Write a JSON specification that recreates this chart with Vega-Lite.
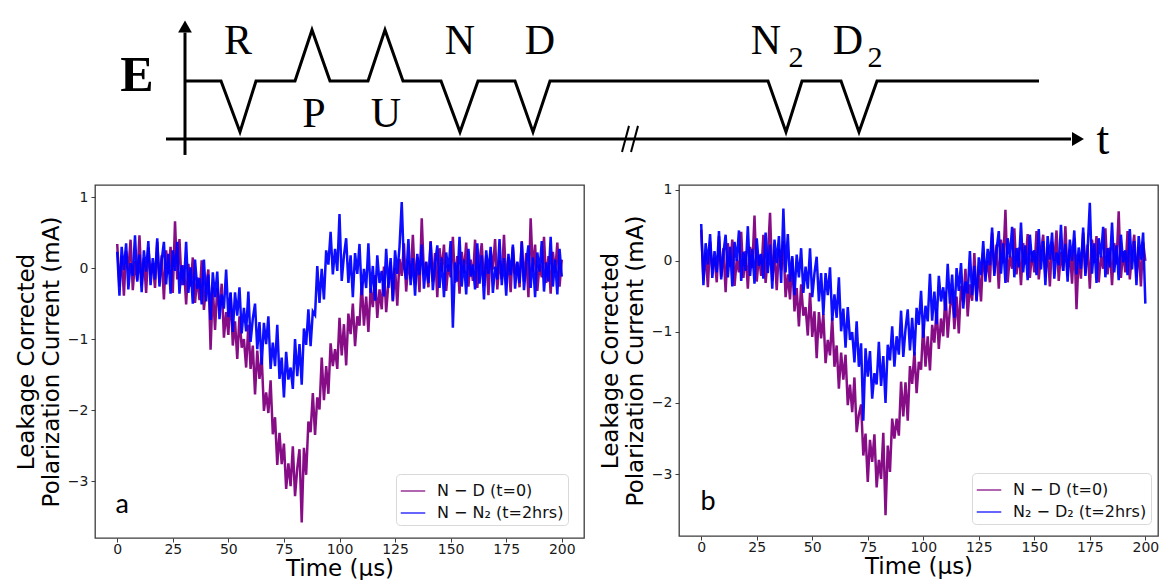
{
"$schema": "https://vega.github.io/schema/vega-lite/v6.json",
"padding": {"left": 14, "top": 0, "right": 0, "bottom": 0},
"background": "white",
"datasets": {
"a": [
{"t":0,"s":"ND","v":0.34},{"t":1,"s":"ND","v":-0.26},{"t":2,"s":"ND","v":0.17},{"t":3,"s":"ND","v":-0.39},{"t":4,"s":"ND","v":0.24},{"t":5,"s":"ND","v":-0.03},{"t":6,"s":"ND","v":0.40},{"t":7,"s":"ND","v":-0.31},{"t":8,"s":"ND","v":0.10},{"t":9,"s":"ND","v":-0.17},
{"t":10,"s":"ND","v":0.46},{"t":11,"s":"ND","v":-0.24},{"t":12,"s":"ND","v":0.14},{"t":13,"s":"ND","v":-0.35},{"t":14,"s":"ND","v":0.29},{"t":15,"s":"ND","v":-0.10},{"t":16,"s":"ND","v":0.07},{"t":17,"s":"ND","v":-0.28},{"t":18,"s":"ND","v":0.37},{"t":19,"s":"ND","v":-0.20},
{"t":20,"s":"ND","v":0.18},{"t":21,"s":"ND","v":-0.44},{"t":22,"s":"ND","v":0.25},{"t":23,"s":"ND","v":-0.08},{"t":24,"s":"ND","v":0.30},{"t":25,"s":"ND","v":-0.35},{"t":26,"s":"ND","v":0.66},{"t":27,"s":"ND","v":-0.16},{"t":28,"s":"ND","v":0.41},{"t":29,"s":"ND","v":-0.24},
{"t":30,"s":"ND","v":0.04},{"t":31,"s":"ND","v":-0.51},{"t":32,"s":"ND","v":0.06},{"t":33,"s":"ND","v":-0.26},{"t":34,"s":"ND","v":0.15},{"t":35,"s":"ND","v":-0.49},{"t":36,"s":"ND","v":-0.13},{"t":37,"s":"ND","v":-0.45},{"t":38,"s":"ND","v":0.11},{"t":39,"s":"ND","v":-0.59},
{"t":40,"s":"ND","v":-0.24},{"t":41,"s":"ND","v":-0.02},{"t":42,"s":"ND","v":-1.15},{"t":43,"s":"ND","v":-0.27},{"t":44,"s":"ND","v":-0.87},{"t":45,"s":"ND","v":-0.28},{"t":46,"s":"ND","v":-0.60},{"t":47,"s":"ND","v":-0.22},{"t":48,"s":"ND","v":-0.98},{"t":49,"s":"ND","v":-0.62},
{"t":50,"s":"ND","v":-0.94},{"t":51,"s":"ND","v":-0.35},{"t":52,"s":"ND","v":-1.09},{"t":53,"s":"ND","v":-0.75},{"t":54,"s":"ND","v":-1.28},{"t":55,"s":"ND","v":-0.68},{"t":56,"s":"ND","v":-1.12},{"t":57,"s":"ND","v":-1.00},{"t":58,"s":"ND","v":-1.40},{"t":59,"s":"ND","v":-0.80},
{"t":60,"s":"ND","v":-1.42},{"t":61,"s":"ND","v":-1.09},{"t":62,"s":"ND","v":-1.78},{"t":63,"s":"ND","v":-1.16},{"t":64,"s":"ND","v":-1.56},{"t":65,"s":"ND","v":-1.25},{"t":66,"s":"ND","v":-2.01},{"t":67,"s":"ND","v":-1.75},{"t":68,"s":"ND","v":-2.04},{"t":69,"s":"ND","v":-1.58},
{"t":70,"s":"ND","v":-2.34},{"t":71,"s":"ND","v":-2.10},{"t":72,"s":"ND","v":-2.77},{"t":73,"s":"ND","v":-2.32},{"t":74,"s":"ND","v":-2.76},{"t":75,"s":"ND","v":-2.47},{"t":76,"s":"ND","v":-3.11},{"t":77,"s":"ND","v":-2.75},{"t":78,"s":"ND","v":-3.07},{"t":79,"s":"ND","v":-2.51},
{"t":80,"s":"ND","v":-3.21},{"t":81,"s":"ND","v":-2.82},{"t":82,"s":"ND","v":-2.55},{"t":83,"s":"ND","v":-3.58},{"t":84,"s":"ND","v":-2.53},{"t":85,"s":"ND","v":-2.91},{"t":86,"s":"ND","v":-2.16},{"t":87,"s":"ND","v":-2.31},{"t":88,"s":"ND","v":-1.76},{"t":89,"s":"ND","v":-2.35},
{"t":90,"s":"ND","v":-1.82},{"t":91,"s":"ND","v":-1.99},{"t":92,"s":"ND","v":-1.26},{"t":93,"s":"ND","v":-1.86},{"t":94,"s":"ND","v":-1.38},{"t":95,"s":"ND","v":-1.77},{"t":96,"s":"ND","v":-1.06},{"t":97,"s":"ND","v":-1.38},{"t":98,"s":"ND","v":-1.14},{"t":99,"s":"ND","v":-1.42},
{"t":100,"s":"ND","v":-0.70},{"t":101,"s":"ND","v":-1.23},{"t":102,"s":"ND","v":-0.79},{"t":103,"s":"ND","v":-1.37},{"t":104,"s":"ND","v":-0.64},{"t":105,"s":"ND","v":-0.93},{"t":106,"s":"ND","v":-0.50},{"t":107,"s":"ND","v":-1.10},{"t":108,"s":"ND","v":-0.68},{"t":109,"s":"ND","v":-0.81},
{"t":110,"s":"ND","v":-0.19},{"t":111,"s":"ND","v":-0.81},{"t":112,"s":"ND","v":-0.40},{"t":113,"s":"ND","v":-0.90},{"t":114,"s":"ND","v":-0.28},{"t":115,"s":"ND","v":-0.55},{"t":116,"s":"ND","v":-0.10},{"t":117,"s":"ND","v":-0.70},{"t":118,"s":"ND","v":-0.30},{"t":119,"s":"ND","v":-0.58},
{"t":120,"s":"ND","v":0.02},{"t":121,"s":"ND","v":-0.62},{"t":122,"s":"ND","v":-0.21},{"t":123,"s":"ND","v":0.09},{"t":124,"s":"ND","v":-0.47},{"t":125,"s":"ND","v":0.00},{"t":126,"s":"ND","v":-0.53},{"t":127,"s":"ND","v":0.13},{"t":128,"s":"ND","v":-0.11},{"t":129,"s":"ND","v":0.35},
{"t":130,"s":"ND","v":-0.33},{"t":131,"s":"ND","v":0.11},{"t":132,"s":"ND","v":-0.16},{"t":133,"s":"ND","v":0.47},{"t":134,"s":"ND","v":-0.23},{"t":135,"s":"ND","v":0.15},{"t":136,"s":"ND","v":-0.34},{"t":137,"s":"ND","v":0.70},{"t":138,"s":"ND","v":-0.09},{"t":139,"s":"ND","v":0.08},
{"t":140,"s":"ND","v":-0.27},{"t":141,"s":"ND","v":0.38},{"t":142,"s":"ND","v":-0.19},{"t":143,"s":"ND","v":0.21},{"t":144,"s":"ND","v":-0.41},{"t":145,"s":"ND","v":0.28},{"t":146,"s":"ND","v":-0.05},{"t":147,"s":"ND","v":0.33},{"t":148,"s":"ND","v":-0.32},{"t":149,"s":"ND","v":0.05},
{"t":150,"s":"ND","v":-0.13},{"t":151,"s":"ND","v":0.44},{"t":152,"s":"ND","v":-0.21},{"t":153,"s":"ND","v":0.17},{"t":154,"s":"ND","v":-0.36},{"t":155,"s":"ND","v":0.23},{"t":156,"s":"ND","v":-0.07},{"t":157,"s":"ND","v":0.36},{"t":158,"s":"ND","v":-0.26},{"t":159,"s":"ND","v":0.12},
{"t":160,"s":"ND","v":-0.18},{"t":161,"s":"ND","v":0.40},{"t":162,"s":"ND","v":-0.28},{"t":163,"s":"ND","v":0.09},{"t":164,"s":"ND","v":0.35},{"t":165,"s":"ND","v":-0.25},{"t":166,"s":"ND","v":0.18},{"t":167,"s":"ND","v":-0.38},{"t":168,"s":"ND","v":0.25},{"t":169,"s":"ND","v":-0.02},
{"t":170,"s":"ND","v":0.41},{"t":171,"s":"ND","v":-0.30},{"t":172,"s":"ND","v":0.11},{"t":173,"s":"ND","v":-0.16},{"t":174,"s":"ND","v":0.47},{"t":175,"s":"ND","v":-0.23},{"t":176,"s":"ND","v":0.15},{"t":177,"s":"ND","v":-0.34},{"t":178,"s":"ND","v":0.30},{"t":179,"s":"ND","v":-0.09},
{"t":180,"s":"ND","v":0.08},{"t":181,"s":"ND","v":-0.27},{"t":182,"s":"ND","v":0.38},{"t":183,"s":"ND","v":-0.19},{"t":184,"s":"ND","v":0.21},{"t":185,"s":"ND","v":-0.41},{"t":186,"s":"ND","v":0.70},{"t":187,"s":"ND","v":-0.05},{"t":188,"s":"ND","v":0.33},{"t":189,"s":"ND","v":-0.32},
{"t":190,"s":"ND","v":0.05},{"t":191,"s":"ND","v":-0.13},{"t":192,"s":"ND","v":0.44},{"t":193,"s":"ND","v":-0.21},{"t":194,"s":"ND","v":0.17},{"t":195,"s":"ND","v":-0.36},{"t":196,"s":"ND","v":0.23},{"t":197,"s":"ND","v":-0.07},{"t":198,"s":"ND","v":0.36},{"t":199,"s":"ND","v":-0.26},{"t":200,"s":"ND","v":0.12},
{"t":0,"s":"NN2","v":0.23},{"t":1,"s":"NN2","v":-0.39},{"t":2,"s":"NN2","v":0.30},{"t":3,"s":"NN2","v":-0.03},{"t":4,"s":"NN2","v":0.35},{"t":5,"s":"NN2","v":-0.30},{"t":6,"s":"NN2","v":0.07},{"t":7,"s":"NN2","v":-0.11},{"t":8,"s":"NN2","v":0.46},{"t":9,"s":"NN2","v":-0.19},
{"t":10,"s":"NN2","v":0.19},{"t":11,"s":"NN2","v":-0.34},{"t":12,"s":"NN2","v":0.25},{"t":13,"s":"NN2","v":-0.05},{"t":14,"s":"NN2","v":0.38},{"t":15,"s":"NN2","v":-0.24},{"t":16,"s":"NN2","v":0.14},{"t":17,"s":"NN2","v":-0.16},{"t":18,"s":"NN2","v":0.42},{"t":19,"s":"NN2","v":-0.26},
{"t":20,"s":"NN2","v":0.11},{"t":21,"s":"NN2","v":0.37},{"t":22,"s":"NN2","v":-0.23},{"t":23,"s":"NN2","v":0.20},{"t":24,"s":"NN2","v":-0.36},{"t":25,"s":"NN2","v":0.25},{"t":26,"s":"NN2","v":-0.04},{"t":27,"s":"NN2","v":0.37},{"t":28,"s":"NN2","v":-0.36},{"t":29,"s":"NN2","v":0.04},
{"t":30,"s":"NN2","v":-0.24},{"t":31,"s":"NN2","v":0.37},{"t":32,"s":"NN2","v":-0.35},{"t":33,"s":"NN2","v":0.01},{"t":34,"s":"NN2","v":-0.50},{"t":35,"s":"NN2","v":0.12},{"t":36,"s":"NN2","v":-0.29},{"t":37,"s":"NN2","v":-0.14},{"t":38,"s":"NN2","v":-0.51},{"t":39,"s":"NN2","v":0.12},
{"t":40,"s":"NN2","v":-0.47},{"t":41,"s":"NN2","v":-0.09},{"t":42,"s":"NN2","v":-0.73},{"t":43,"s":"NN2","v":-0.06},{"t":44,"s":"NN2","v":-0.41},{"t":45,"s":"NN2","v":-0.05},{"t":46,"s":"NN2","v":-0.72},{"t":47,"s":"NN2","v":-0.37},{"t":48,"s":"NN2","v":-0.57},{"t":49,"s":"NN2","v":-0.02},
{"t":50,"s":"NN2","v":-0.69},{"t":51,"s":"NN2","v":-0.34},{"t":52,"s":"NN2","v":-0.90},{"t":53,"s":"NN2","v":-0.34},{"t":54,"s":"NN2","v":-0.67},{"t":55,"s":"NN2","v":-0.27},{"t":56,"s":"NN2","v":-0.92},{"t":57,"s":"NN2","v":-0.56},{"t":58,"s":"NN2","v":-0.89},{"t":59,"s":"NN2","v":-0.33},
{"t":60,"s":"NN2","v":-1.04},{"t":61,"s":"NN2","v":-0.71},{"t":62,"s":"NN2","v":-0.50},{"t":63,"s":"NN2","v":-1.14},{"t":64,"s":"NN2","v":-0.76},{"t":65,"s":"NN2","v":-1.36},{"t":66,"s":"NN2","v":-0.77},{"t":67,"s":"NN2","v":-1.07},{"t":68,"s":"NN2","v":-0.68},{"t":69,"s":"NN2","v":-1.42},
{"t":70,"s":"NN2","v":-1.05},{"t":71,"s":"NN2","v":-1.38},{"t":72,"s":"NN2","v":-0.80},{"t":73,"s":"NN2","v":-1.56},{"t":74,"s":"NN2","v":-1.26},{"t":75,"s":"NN2","v":-1.82},{"t":76,"s":"NN2","v":-1.18},{"t":77,"s":"NN2","v":-1.57},{"t":78,"s":"NN2","v":-1.40},{"t":79,"s":"NN2","v":-1.70},
{"t":80,"s":"NN2","v":-1.00},{"t":81,"s":"NN2","v":-1.52},{"t":82,"s":"NN2","v":-1.07},{"t":83,"s":"NN2","v":-1.64},{"t":84,"s":"NN2","v":-0.85},{"t":85,"s":"NN2","v":-1.08},{"t":86,"s":"NN2","v":-0.58},{"t":87,"s":"NN2","v":-1.10},{"t":88,"s":"NN2","v":-0.61},{"t":89,"s":"NN2","v":-0.66},
{"t":90,"s":"NN2","v":0.03},{"t":91,"s":"NN2","v":-0.49},{"t":92,"s":"NN2","v":-0.01},{"t":93,"s":"NN2","v":-0.44},{"t":94,"s":"NN2","v":0.25},{"t":95,"s":"NN2","v":0.05},{"t":96,"s":"NN2","v":0.51},{"t":97,"s":"NN2","v":-0.09},{"t":98,"s":"NN2","v":0.27},{"t":99,"s":"NN2","v":-0.04},
{"t":100,"s":"NN2","v":0.76},{"t":101,"s":"NN2","v":-0.18},{"t":102,"s":"NN2","v":0.18},{"t":103,"s":"NN2","v":0.42},{"t":104,"s":"NN2","v":-0.21},{"t":105,"s":"NN2","v":0.18},{"t":106,"s":"NN2","v":-0.41},{"t":107,"s":"NN2","v":0.21},{"t":108,"s":"NN2","v":-0.08},{"t":109,"s":"NN2","v":0.34},
{"t":110,"s":"NN2","v":-0.38},{"t":111,"s":"NN2","v":-0.01},{"t":112,"s":"NN2","v":-0.28},{"t":113,"s":"NN2","v":0.35},{"t":114,"s":"NN2","v":-0.35},{"t":115,"s":"NN2","v":0.03},{"t":116,"s":"NN2","v":-0.46},{"t":117,"s":"NN2","v":0.18},{"t":118,"s":"NN2","v":-0.21},{"t":119,"s":"NN2","v":-0.04},
{"t":120,"s":"NN2","v":-0.40},{"t":121,"s":"NN2","v":0.27},{"t":122,"s":"NN2","v":-0.28},{"t":123,"s":"NN2","v":0.14},{"t":124,"s":"NN2","v":-0.46},{"t":125,"s":"NN2","v":0.25},{"t":126,"s":"NN2","v":-0.08},{"t":127,"s":"NN2","v":0.30},{"t":128,"s":"NN2","v":0.93},{"t":129,"s":"NN2","v":0.02},
{"t":130,"s":"NN2","v":-0.16},{"t":131,"s":"NN2","v":0.41},{"t":132,"s":"NN2","v":-0.24},{"t":133,"s":"NN2","v":0.14},{"t":134,"s":"NN2","v":-0.39},{"t":135,"s":"NN2","v":0.20},{"t":136,"s":"NN2","v":-0.10},{"t":137,"s":"NN2","v":0.33},{"t":138,"s":"NN2","v":-0.29},{"t":139,"s":"NN2","v":0.09},
{"t":140,"s":"NN2","v":-0.21},{"t":141,"s":"NN2","v":0.37},{"t":142,"s":"NN2","v":-0.31},{"t":143,"s":"NN2","v":0.06},{"t":144,"s":"NN2","v":0.32},{"t":145,"s":"NN2","v":-0.28},{"t":146,"s":"NN2","v":0.15},{"t":147,"s":"NN2","v":-0.41},{"t":148,"s":"NN2","v":0.22},{"t":149,"s":"NN2","v":-0.05},
{"t":150,"s":"NN2","v":0.38},{"t":151,"s":"NN2","v":-0.84},{"t":152,"s":"NN2","v":0.08},{"t":153,"s":"NN2","v":-0.19},{"t":154,"s":"NN2","v":0.44},{"t":155,"s":"NN2","v":-0.26},{"t":156,"s":"NN2","v":0.12},{"t":157,"s":"NN2","v":-0.37},{"t":158,"s":"NN2","v":0.27},{"t":159,"s":"NN2","v":-0.12},
{"t":160,"s":"NN2","v":0.05},{"t":161,"s":"NN2","v":-0.30},{"t":162,"s":"NN2","v":0.35},{"t":163,"s":"NN2","v":-0.22},{"t":164,"s":"NN2","v":0.18},{"t":165,"s":"NN2","v":-0.44},{"t":166,"s":"NN2","v":0.25},{"t":167,"s":"NN2","v":-0.08},{"t":168,"s":"NN2","v":0.30},{"t":169,"s":"NN2","v":-0.35},
{"t":170,"s":"NN2","v":0.02},{"t":171,"s":"NN2","v":-0.16},{"t":172,"s":"NN2","v":0.41},{"t":173,"s":"NN2","v":-0.24},{"t":174,"s":"NN2","v":0.14},{"t":175,"s":"NN2","v":-0.39},{"t":176,"s":"NN2","v":0.20},{"t":177,"s":"NN2","v":-0.10},{"t":178,"s":"NN2","v":0.33},{"t":179,"s":"NN2","v":-0.29},
{"t":180,"s":"NN2","v":0.09},{"t":181,"s":"NN2","v":-0.21},{"t":182,"s":"NN2","v":0.37},{"t":183,"s":"NN2","v":-0.31},{"t":184,"s":"NN2","v":0.06},{"t":185,"s":"NN2","v":0.32},{"t":186,"s":"NN2","v":-0.28},{"t":187,"s":"NN2","v":0.15},{"t":188,"s":"NN2","v":-0.41},{"t":189,"s":"NN2","v":0.22},
{"t":190,"s":"NN2","v":-0.05},{"t":191,"s":"NN2","v":0.38},{"t":192,"s":"NN2","v":-0.33},{"t":193,"s":"NN2","v":0.08},{"t":194,"s":"NN2","v":-0.19},{"t":195,"s":"NN2","v":0.44},{"t":196,"s":"NN2","v":-0.26},{"t":197,"s":"NN2","v":0.12},{"t":198,"s":"NN2","v":-0.37},{"t":199,"s":"NN2","v":0.27},{"t":200,"s":"NN2","v":-0.12}
],
"b": [
{"t":0,"s":"ND","v":0.44},{"t":1,"s":"ND","v":-0.26},{"t":2,"s":"ND","v":0.12},{"t":3,"s":"ND","v":-0.37},{"t":4,"s":"ND","v":0.27},{"t":5,"s":"ND","v":-0.12},{"t":6,"s":"ND","v":0.05},{"t":7,"s":"ND","v":-0.30},{"t":8,"s":"ND","v":0.35},{"t":9,"s":"ND","v":-0.22},
{"t":10,"s":"ND","v":0.18},{"t":11,"s":"ND","v":-0.44},{"t":12,"s":"ND","v":0.25},{"t":13,"s":"ND","v":-0.08},{"t":14,"s":"ND","v":0.30},{"t":15,"s":"ND","v":-0.35},{"t":16,"s":"ND","v":0.02},{"t":17,"s":"ND","v":-0.16},{"t":18,"s":"ND","v":0.41},{"t":19,"s":"ND","v":-0.24},
{"t":20,"s":"ND","v":0.14},{"t":21,"s":"ND","v":-0.39},{"t":22,"s":"ND","v":0.20},{"t":23,"s":"ND","v":-0.10},{"t":24,"s":"ND","v":0.64},{"t":25,"s":"ND","v":-0.29},{"t":26,"s":"ND","v":0.09},{"t":27,"s":"ND","v":-0.21},{"t":28,"s":"ND","v":0.37},{"t":29,"s":"ND","v":-0.31},
{"t":30,"s":"ND","v":0.06},{"t":31,"s":"ND","v":0.68},{"t":32,"s":"ND","v":-0.28},{"t":33,"s":"ND","v":0.15},{"t":34,"s":"ND","v":-0.41},{"t":35,"s":"ND","v":0.17},{"t":36,"s":"ND","v":-0.13},{"t":37,"s":"ND","v":0.28},{"t":38,"s":"ND","v":-0.51},{"t":39,"s":"ND","v":-0.19},
{"t":40,"s":"ND","v":-0.54},{"t":41,"s":"ND","v":0.04},{"t":42,"s":"ND","v":-0.71},{"t":43,"s":"ND","v":-0.38},{"t":44,"s":"ND","v":-0.92},{"t":45,"s":"ND","v":-0.33},{"t":46,"s":"ND","v":-0.77},{"t":47,"s":"ND","v":-0.65},{"t":48,"s":"ND","v":-1.05},{"t":49,"s":"ND","v":-0.45},
{"t":50,"s":"ND","v":-1.07},{"t":51,"s":"ND","v":-0.71},{"t":52,"s":"ND","v":-1.37},{"t":53,"s":"ND","v":-0.72},{"t":54,"s":"ND","v":-1.09},{"t":55,"s":"ND","v":-0.75},{"t":56,"s":"ND","v":-1.44},{"t":57,"s":"ND","v":-1.11},{"t":58,"s":"ND","v":-1.33},{"t":59,"s":"ND","v":-0.80},
{"t":60,"s":"ND","v":-1.49},{"t":61,"s":"ND","v":-1.19},{"t":62,"s":"ND","v":-1.80},{"t":63,"s":"ND","v":-1.29},{"t":64,"s":"ND","v":-1.67},{"t":65,"s":"ND","v":-1.32},{"t":66,"s":"ND","v":-2.03},{"t":67,"s":"ND","v":-1.74},{"t":68,"s":"ND","v":-2.13},{"t":69,"s":"ND","v":-1.64},
{"t":70,"s":"ND","v":-2.41},{"t":71,"s":"ND","v":-2.16},{"t":72,"s":"ND","v":-2.02},{"t":73,"s":"ND","v":-2.74},{"t":74,"s":"ND","v":-2.43},{"t":75,"s":"ND","v":-3.11},{"t":76,"s":"ND","v":-2.52},{"t":77,"s":"ND","v":-2.83},{"t":78,"s":"ND","v":-2.44},{"t":79,"s":"ND","v":-3.19},
{"t":80,"s":"ND","v":-2.80},{"t":81,"s":"ND","v":-3.07},{"t":82,"s":"ND","v":-2.42},{"t":83,"s":"ND","v":-3.58},{"t":84,"s":"ND","v":-2.60},{"t":85,"s":"ND","v":-2.97},{"t":86,"s":"ND","v":-2.22},{"t":87,"s":"ND","v":-2.50},{"t":88,"s":"ND","v":-2.22},{"t":89,"s":"ND","v":-2.46},
{"t":90,"s":"ND","v":-1.70},{"t":91,"s":"ND","v":-2.19},{"t":92,"s":"ND","v":-1.71},{"t":93,"s":"ND","v":-2.25},{"t":94,"s":"ND","v":-1.48},{"t":95,"s":"ND","v":-1.73},{"t":96,"s":"ND","v":-1.28},{"t":97,"s":"ND","v":-1.86},{"t":98,"s":"ND","v":-1.42},{"t":99,"s":"ND","v":-1.53},
{"t":100,"s":"ND","v":-0.89},{"t":101,"s":"ND","v":-1.49},{"t":102,"s":"ND","v":-1.06},{"t":103,"s":"ND","v":-1.54},{"t":104,"s":"ND","v":-0.90},{"t":105,"s":"ND","v":-1.15},{"t":106,"s":"ND","v":-0.67},{"t":107,"s":"ND","v":-1.24},{"t":108,"s":"ND","v":-0.81},{"t":109,"s":"ND","v":-1.06},
{"t":110,"s":"ND","v":-0.43},{"t":111,"s":"ND","v":-1.08},{"t":112,"s":"ND","v":-0.68},{"t":113,"s":"ND","v":-0.39},{"t":114,"s":"ND","v":-0.96},{"t":115,"s":"ND","v":-0.50},{"t":116,"s":"ND","v":-1.02},{"t":117,"s":"ND","v":-0.35},{"t":118,"s":"ND","v":-0.58},{"t":119,"s":"ND","v":-0.11},
{"t":120,"s":"ND","v":-0.78},{"t":121,"s":"ND","v":-0.33},{"t":122,"s":"ND","v":-0.56},{"t":123,"s":"ND","v":0.11},{"t":124,"s":"ND","v":-0.55},{"t":125,"s":"ND","v":-0.13},{"t":126,"s":"ND","v":-0.57},{"t":127,"s":"ND","v":0.12},{"t":128,"s":"ND","v":-0.22},{"t":129,"s":"ND","v":0.00},
{"t":130,"s":"ND","v":-0.30},{"t":131,"s":"ND","v":0.40},{"t":132,"s":"ND","v":-0.17},{"t":133,"s":"ND","v":0.23},{"t":134,"s":"ND","v":-0.39},{"t":135,"s":"ND","v":0.30},{"t":136,"s":"ND","v":-0.03},{"t":137,"s":"ND","v":0.72},{"t":138,"s":"ND","v":-0.30},{"t":139,"s":"ND","v":0.07},
{"t":140,"s":"ND","v":-0.11},{"t":141,"s":"ND","v":0.46},{"t":142,"s":"ND","v":-0.19},{"t":143,"s":"ND","v":0.19},{"t":144,"s":"ND","v":-0.34},{"t":145,"s":"ND","v":0.25},{"t":146,"s":"ND","v":-0.05},{"t":147,"s":"ND","v":0.38},{"t":148,"s":"ND","v":-0.24},{"t":149,"s":"ND","v":0.14},
{"t":150,"s":"ND","v":-0.16},{"t":151,"s":"ND","v":0.42},{"t":152,"s":"ND","v":-0.26},{"t":153,"s":"ND","v":0.11},{"t":154,"s":"ND","v":0.37},{"t":155,"s":"ND","v":-0.23},{"t":156,"s":"ND","v":0.20},{"t":157,"s":"ND","v":-0.36},{"t":158,"s":"ND","v":0.27},{"t":159,"s":"ND","v":0.00},
{"t":160,"s":"ND","v":0.43},{"t":161,"s":"ND","v":-0.28},{"t":162,"s":"ND","v":0.13},{"t":163,"s":"ND","v":-0.14},{"t":164,"s":"ND","v":0.49},{"t":165,"s":"ND","v":-0.21},{"t":166,"s":"ND","v":0.17},{"t":167,"s":"ND","v":-0.32},{"t":168,"s":"ND","v":0.32},{"t":169,"s":"ND","v":-0.68},
{"t":170,"s":"ND","v":0.10},{"t":171,"s":"ND","v":-0.25},{"t":172,"s":"ND","v":0.40},{"t":173,"s":"ND","v":-0.17},{"t":174,"s":"ND","v":0.23},{"t":175,"s":"ND","v":-0.39},{"t":176,"s":"ND","v":0.30},{"t":177,"s":"ND","v":-0.03},{"t":178,"s":"ND","v":0.35},{"t":179,"s":"ND","v":-0.30},
{"t":180,"s":"ND","v":0.07},{"t":181,"s":"ND","v":-0.11},{"t":182,"s":"ND","v":0.46},{"t":183,"s":"ND","v":-0.19},{"t":184,"s":"ND","v":0.19},{"t":185,"s":"ND","v":-0.34},{"t":186,"s":"ND","v":0.25},{"t":187,"s":"ND","v":-0.05},{"t":188,"s":"ND","v":0.70},{"t":189,"s":"ND","v":-0.24},
{"t":190,"s":"ND","v":0.14},{"t":191,"s":"ND","v":-0.16},{"t":192,"s":"ND","v":0.42},{"t":193,"s":"ND","v":-0.26},{"t":194,"s":"ND","v":0.11},{"t":195,"s":"ND","v":0.37},{"t":196,"s":"ND","v":-0.23},{"t":197,"s":"ND","v":0.20},{"t":198,"s":"ND","v":-0.36},{"t":199,"s":"ND","v":0.27},{"t":200,"s":"ND","v":0.00},
{"t":0,"s":"N2D2","v":0.52},{"t":1,"s":"N2D2","v":-0.34},{"t":2,"s":"N2D2","v":0.25},{"t":3,"s":"N2D2","v":-0.05},{"t":4,"s":"N2D2","v":0.38},{"t":5,"s":"N2D2","v":-0.24},{"t":6,"s":"N2D2","v":0.14},{"t":7,"s":"N2D2","v":-0.16},{"t":8,"s":"N2D2","v":0.42},{"t":9,"s":"N2D2","v":-0.26},
{"t":10,"s":"N2D2","v":0.11},{"t":11,"s":"N2D2","v":0.37},{"t":12,"s":"N2D2","v":-0.23},{"t":13,"s":"N2D2","v":0.20},{"t":14,"s":"N2D2","v":-0.36},{"t":15,"s":"N2D2","v":0.27},{"t":16,"s":"N2D2","v":0.00},{"t":17,"s":"N2D2","v":0.43},{"t":18,"s":"N2D2","v":-0.28},{"t":19,"s":"N2D2","v":0.13},
{"t":20,"s":"N2D2","v":-0.14},{"t":21,"s":"N2D2","v":0.49},{"t":22,"s":"N2D2","v":-0.21},{"t":23,"s":"N2D2","v":0.17},{"t":24,"s":"N2D2","v":-0.32},{"t":25,"s":"N2D2","v":0.32},{"t":26,"s":"N2D2","v":-0.07},{"t":27,"s":"N2D2","v":0.10},{"t":28,"s":"N2D2","v":-0.25},{"t":29,"s":"N2D2","v":0.40},
{"t":30,"s":"N2D2","v":-0.17},{"t":31,"s":"N2D2","v":0.23},{"t":32,"s":"N2D2","v":-0.39},{"t":33,"s":"N2D2","v":0.30},{"t":34,"s":"N2D2","v":-0.03},{"t":35,"s":"N2D2","v":0.35},{"t":36,"s":"N2D2","v":-0.31},{"t":37,"s":"N2D2","v":0.74},{"t":38,"s":"N2D2","v":-0.16},{"t":39,"s":"N2D2","v":0.38},
{"t":40,"s":"N2D2","v":-0.29},{"t":41,"s":"N2D2","v":0.07},{"t":42,"s":"N2D2","v":-0.48},{"t":43,"s":"N2D2","v":0.09},{"t":44,"s":"N2D2","v":-0.23},{"t":45,"s":"N2D2","v":0.18},{"t":46,"s":"N2D2","v":-0.45},{"t":47,"s":"N2D2","v":-0.08},{"t":48,"s":"N2D2","v":-0.39},{"t":49,"s":"N2D2","v":0.18},
{"t":50,"s":"N2D2","v":-0.51},{"t":51,"s":"N2D2","v":-0.17},{"t":52,"s":"N2D2","v":0.06},{"t":53,"s":"N2D2","v":-0.57},{"t":54,"s":"N2D2","v":-0.17},{"t":55,"s":"N2D2","v":-0.76},{"t":56,"s":"N2D2","v":-0.17},{"t":57,"s":"N2D2","v":-0.48},{"t":58,"s":"N2D2","v":-0.09},{"t":59,"s":"N2D2","v":-0.84},
{"t":60,"s":"N2D2","v":-0.47},{"t":61,"s":"N2D2","v":-0.80},{"t":62,"s":"N2D2","v":-0.23},{"t":63,"s":"N2D2","v":-0.99},{"t":64,"s":"N2D2","v":-0.67},{"t":65,"s":"N2D2","v":-1.22},{"t":66,"s":"N2D2","v":-0.65},{"t":67,"s":"N2D2","v":-1.11},{"t":68,"s":"N2D2","v":-1.00},{"t":69,"s":"N2D2","v":-1.43},
{"t":70,"s":"N2D2","v":-0.85},{"t":71,"s":"N2D2","v":-1.49},{"t":72,"s":"N2D2","v":-1.16},{"t":73,"s":"N2D2","v":-2.25},{"t":74,"s":"N2D2","v":-1.23},{"t":75,"s":"N2D2","v":-1.63},{"t":76,"s":"N2D2","v":-1.27},{"t":77,"s":"N2D2","v":-1.94},{"t":78,"s":"N2D2","v":-1.58},{"t":79,"s":"N2D2","v":-1.74},
{"t":80,"s":"N2D2","v":-1.14},{"t":81,"s":"N2D2","v":-1.76},{"t":82,"s":"N2D2","v":-1.34},{"t":83,"s":"N2D2","v":-2.00},{"t":84,"s":"N2D2","v":-1.18},{"t":85,"s":"N2D2","v":-1.40},{"t":86,"s":"N2D2","v":-0.92},{"t":87,"s":"N2D2","v":-1.49},{"t":88,"s":"N2D2","v":-1.06},{"t":89,"s":"N2D2","v":-1.32},
{"t":90,"s":"N2D2","v":-0.70},{"t":91,"s":"N2D2","v":-1.35},{"t":92,"s":"N2D2","v":-0.96},{"t":93,"s":"N2D2","v":-0.68},{"t":94,"s":"N2D2","v":-1.26},{"t":95,"s":"N2D2","v":-0.80},{"t":96,"s":"N2D2","v":-1.33},{"t":97,"s":"N2D2","v":-0.66},{"t":98,"s":"N2D2","v":-0.90},{"t":99,"s":"N2D2","v":-0.42},
{"t":100,"s":"N2D2","v":-1.08},{"t":101,"s":"N2D2","v":-0.63},{"t":102,"s":"N2D2","v":-0.85},{"t":103,"s":"N2D2","v":-0.18},{"t":104,"s":"N2D2","v":-0.84},{"t":105,"s":"N2D2","v":-0.43},{"t":106,"s":"N2D2","v":-0.89},{"t":107,"s":"N2D2","v":-0.21},{"t":108,"s":"N2D2","v":-0.57},{"t":109,"s":"N2D2","v":-0.37},
{"t":110,"s":"N2D2","v":-0.70},{"t":111,"s":"N2D2","v":-0.04},{"t":112,"s":"N2D2","v":-0.60},{"t":113,"s":"N2D2","v":-0.19},{"t":114,"s":"N2D2","v":-0.80},{"t":115,"s":"N2D2","v":-0.10},{"t":116,"s":"N2D2","v":-0.42},{"t":117,"s":"N2D2","v":-0.03},{"t":118,"s":"N2D2","v":-0.67},{"t":119,"s":"N2D2","v":-0.29},
{"t":120,"s":"N2D2","v":-0.46},{"t":121,"s":"N2D2","v":0.14},{"t":122,"s":"N2D2","v":-0.48},{"t":123,"s":"N2D2","v":-0.07},{"t":124,"s":"N2D2","v":-0.57},{"t":125,"s":"N2D2","v":0.05},{"t":126,"s":"N2D2","v":-0.20},{"t":127,"s":"N2D2","v":0.28},{"t":128,"s":"N2D2","v":-0.29},{"t":129,"s":"N2D2","v":0.17},
{"t":130,"s":"N2D2","v":-0.06},{"t":131,"s":"N2D2","v":0.47},{"t":132,"s":"N2D2","v":-0.21},{"t":133,"s":"N2D2","v":0.16},{"t":134,"s":"N2D2","v":0.42},{"t":135,"s":"N2D2","v":-0.18},{"t":136,"s":"N2D2","v":0.25},{"t":137,"s":"N2D2","v":-0.31},{"t":138,"s":"N2D2","v":0.32},{"t":139,"s":"N2D2","v":0.05},
{"t":140,"s":"N2D2","v":0.48},{"t":141,"s":"N2D2","v":-0.23},{"t":142,"s":"N2D2","v":0.18},{"t":143,"s":"N2D2","v":-0.09},{"t":144,"s":"N2D2","v":0.54},{"t":145,"s":"N2D2","v":-0.16},{"t":146,"s":"N2D2","v":0.22},{"t":147,"s":"N2D2","v":-0.27},{"t":148,"s":"N2D2","v":0.37},{"t":149,"s":"N2D2","v":-0.02},
{"t":150,"s":"N2D2","v":0.15},{"t":151,"s":"N2D2","v":-0.20},{"t":152,"s":"N2D2","v":0.45},{"t":153,"s":"N2D2","v":-0.12},{"t":154,"s":"N2D2","v":0.28},{"t":155,"s":"N2D2","v":-0.34},{"t":156,"s":"N2D2","v":0.35},{"t":157,"s":"N2D2","v":0.02},{"t":158,"s":"N2D2","v":0.40},{"t":159,"s":"N2D2","v":-0.25},
{"t":160,"s":"N2D2","v":0.12},{"t":161,"s":"N2D2","v":-0.06},{"t":162,"s":"N2D2","v":0.51},{"t":163,"s":"N2D2","v":-0.14},{"t":164,"s":"N2D2","v":0.24},{"t":165,"s":"N2D2","v":-0.29},{"t":166,"s":"N2D2","v":0.30},{"t":167,"s":"N2D2","v":0.00},{"t":168,"s":"N2D2","v":0.43},{"t":169,"s":"N2D2","v":-0.19},
{"t":170,"s":"N2D2","v":0.19},{"t":171,"s":"N2D2","v":-0.11},{"t":172,"s":"N2D2","v":0.47},{"t":173,"s":"N2D2","v":-0.21},{"t":174,"s":"N2D2","v":0.16},{"t":175,"s":"N2D2","v":0.82},{"t":176,"s":"N2D2","v":-0.18},{"t":177,"s":"N2D2","v":0.25},{"t":178,"s":"N2D2","v":-0.31},{"t":179,"s":"N2D2","v":0.32},
{"t":180,"s":"N2D2","v":0.05},{"t":181,"s":"N2D2","v":0.48},{"t":182,"s":"N2D2","v":-0.23},{"t":183,"s":"N2D2","v":0.18},{"t":184,"s":"N2D2","v":-0.09},{"t":185,"s":"N2D2","v":0.54},{"t":186,"s":"N2D2","v":-0.16},{"t":187,"s":"N2D2","v":0.22},{"t":188,"s":"N2D2","v":-0.27},{"t":189,"s":"N2D2","v":0.37},
{"t":190,"s":"N2D2","v":-0.02},{"t":191,"s":"N2D2","v":0.15},{"t":192,"s":"N2D2","v":-0.20},{"t":193,"s":"N2D2","v":0.45},{"t":194,"s":"N2D2","v":-0.12},{"t":195,"s":"N2D2","v":0.28},{"t":196,"s":"N2D2","v":-0.34},{"t":197,"s":"N2D2","v":0.35},{"t":198,"s":"N2D2","v":0.02},{"t":199,"s":"N2D2","v":0.40},{"t":200,"s":"N2D2","v":-0.60}
]
},
"vconcat": [
{
"width": 1062, "height": 170,
"view": {"stroke": null},
"layer": [
{
"data": {"values": [
{"i":0,"x":0,"y":0},{"i":1,"x":3.6,"y":0},{"i":2,"x":5.5,"y":-1},{"i":3,"x":7.1,"y":0},{"i":4,"x":11.0,"y":0},{"i":5,"x":12.7,"y":1},{"i":6,"x":14.5,"y":0},{"i":7,"x":18.3,"y":0},{"i":8,"x":20.0,"y":1},{"i":9,"x":21.8,"y":0},{"i":10,"x":25.6,"y":0},{"i":11,"x":27.5,"y":-1},{"i":12,"x":29.3,"y":0},{"i":13,"x":33.0,"y":0},{"i":14,"x":34.8,"y":-1},{"i":15,"x":36.5,"y":0},{"i":16,"x":58.3,"y":0},{"i":17,"x":60.1,"y":-1},{"i":18,"x":61.7,"y":0},{"i":19,"x":65.6,"y":0},{"i":20,"x":67.4,"y":-1},{"i":21,"x":69.2,"y":0},{"i":22,"x":85.4,"y":0}
]},
"mark": {"type": "line", "color": "black", "strokeWidth": 3, "strokeJoin": "miter"},
"encoding": {
"x": {"field": "x", "type": "quantitative", "scale": {"domain": [-9.0, 97.2], "nice": false, "zero": false}, "axis": null},
"y": {"field": "y", "type": "quantitative", "scale": {"domain": [-1.745, 1.588], "nice": false, "zero": false}, "axis": null},
"order": {"field": "i", "type": "quantitative"}
}
},
{
"data": {"values": [
{"x":0,"y":-1.45,"x2":0,"y2":0.95,"w":3},{"x":-1.9,"y":-1.137,"x2":88.6,"y2":-1.137,"w":3},{"x":43.7,"y":-1.39,"x2":44.4,"y2":-0.88,"w":2},{"x":44.6,"y":-1.39,"x2":45.3,"y2":-0.88,"w":2}
]},
"mark": {"type": "rule", "color": "black"},
"encoding": {
"x": {"field": "x", "type": "quantitative", "scale": {"domain": [-9.0, 97.2], "nice": false, "zero": false}, "axis": null},
"y": {"field": "y", "type": "quantitative", "scale": {"domain": [-1.745, 1.588], "nice": false, "zero": false}, "axis": null},
"x2": {"field": "x2"},
"y2": {"field": "y2"},
"strokeWidth": {"field": "w", "type": "quantitative", "scale": null}
}
},
{
"data": {"values": [
{"x":0,"y":1.07,"shape":"triangle-up"},{"x":89.3,"y":-1.137,"shape":"triangle-right"}
]},
"mark": {"type": "point", "filled": true, "color": "black", "opacity": 1, "size": 190},
"encoding": {
"x": {"field": "x", "type": "quantitative", "axis": null},
"y": {"field": "y", "type": "quantitative", "axis": null},
"shape": {"field": "shape", "type": "nominal", "scale": null}
}
},
{
"data": {"values": [
{"x":5.3,"y":0.79,"label":"R","size":42},{"x":12.9,"y":-0.64,"label":"P","size":42},{"x":20.1,"y":-0.64,"label":"U","size":42},{"x":27.5,"y":0.79,"label":"N","size":42},{"x":35.5,"y":0.79,"label":"D","size":42},{"x":58.1,"y":0.79,"label":"N","size":42},{"x":61.1,"y":0.45,"label":"2","size":30},{"x":66.3,"y":0.79,"label":"D","size":42},{"x":69.0,"y":0.45,"label":"2","size":30},{"x":91.8,"y":-1.16,"label":"t","size":46}
]},
"mark": {"type": "text", "font": "Liberation Serif", "color": "black", "align": "center", "baseline": "middle"},
"encoding": {
"x": {"field": "x", "type": "quantitative", "axis": null},
"y": {"field": "y", "type": "quantitative", "axis": null},
"text": {"field": "label"},
"size": {"field": "size", "type": "quantitative", "scale": null}
}
},
{
"data": {"values": [{"x":-4.8,"y":0.1,"label":"E"}]},
"mark": {"type": "text", "font": "Liberation Serif", "fontWeight": "bold", "fontSize": 50, "color": "black", "align": "center", "baseline": "middle"},
"encoding": {
"x": {"field": "x", "type": "quantitative", "axis": null},
"y": {"field": "y", "type": "quantitative", "axis": null},
"text": {"field": "label"}
}
}
]
},
{
"hconcat": [
{
"width": 489, "height": 353,
"layer": [
{
"data": {"name": "a"},
"mark": {"type": "line", "strokeWidth": 2.5, "opacity": 0.95},
"encoding": {
"x": {"field": "t", "type": "quantitative", "scale": {"domain": [-10, 210], "nice": false, "zero": false}, "axis": {"values": [0,25,50,75,100,125,150,175,200], "title": "Time (µs)"}},
"y": {"field": "v", "type": "quantitative", "scale": {"domain": [-3.8, 1.17], "nice": false, "zero": false}, "axis": {"values": [-3,-2,-1,0,1], "format": "d", "title": ["Leakage Corrected", "Polarization Current (mA)"]}},
"color": {"field": "s", "type": "nominal", "scale": {"domain": ["ND","NN2"], "range": ["#800080","#0000ff"]},
"legend": {"title": null, "orient": "none", "legendX": 301, "legendY": 289, "labelExpr": "datum.label == 'ND' ? 'N − D (t=0)' : 'N − N₂ (t=2hrs)'"}}
}
},
{
"data": {"values": [{"t": 2.2, "v": -3.34, "label": "a"}]},
"mark": {"type": "text", "font": "Lato", "fontSize": 27, "color": "black", "align": "center", "baseline": "middle"},
"encoding": {
"x": {"field": "t", "type": "quantitative"},
"y": {"field": "v", "type": "quantitative"},
"text": {"field": "label"}
}
}
]
},
{
"width": 479, "height": 351,
"layer": [
{
"data": {"name": "b"},
"mark": {"type": "line", "strokeWidth": 2.5, "opacity": 0.95},
"encoding": {
"x": {"field": "t", "type": "quantitative", "scale": {"domain": [-10, 205.7], "nice": false, "zero": false}, "axis": {"values": [0,25,50,75,100,125,150,175,200], "title": "Time (µs)"}},
"y": {"field": "v", "type": "quantitative", "scale": {"domain": [-3.873, 1.07], "nice": false, "zero": false}, "axis": {"values": [-3,-2,-1,0,1], "format": "d", "title": ["Leakage Corrected", "Polarization Current (mA)"]}},
"color": {"field": "s", "type": "nominal", "scale": {"domain": ["ND","N2D2"], "range": ["#800080","#0000ff"]},
"legend": {"title": null, "orient": "none", "legendX": 293, "legendY": 288, "labelExpr": "datum.label == 'ND' ? 'N − D (t=0)' : 'N₂ − D₂ (t=2hrs)'"}}
}
},
{
"data": {"values": [{"t": 3.1, "v": -3.40, "label": "b"}]},
"mark": {"type": "text", "font": "Lato", "fontSize": 27, "color": "black", "align": "center", "baseline": "middle"},
"encoding": {
"x": {"field": "t", "type": "quantitative"},
"y": {"field": "v", "type": "quantitative"},
"text": {"field": "label"}
}
}
]
}
],
"spacing": 13,
"resolve": {"scale": {"color": "independent", "x": "independent", "y": "independent"}, "legend": {"color": "independent"}}
}
],
"spacing": 12,
"config": {
"font": "DejaVu Sans",
"view": {"stroke": "#3c3c3c", "strokeWidth": 1.3},
"axis": {"grid": false, "domain": false, "ticks": true, "tickSize": 4, "tickColor": "#3c3c3c", "tickWidth": 1, "labelFont": "DejaVu Sans", "labelFontSize": 14, "labelColor": "#1a1a1a", "labelPadding": 3, "titleFont": "DejaVu Sans", "titleFontSize": 23, "titleFontWeight": "normal", "titleColor": "#000000", "titleLineHeight": 25},
"axisX": {"titlePadding": 1, "labelPadding": 0},
"axisY": {"titlePadding": 4},
"legend": {"symbolType": "stroke", "symbolSize": 600, "symbolStrokeWidth": 1.5, "symbolOpacity": 0.8, "labelFont": "DejaVu Sans", "labelFontSize": 16, "labelColor": "#111111", "padding": 4, "rowPadding": 1, "labelOffset": 11, "strokeColor": "#d9d9d9", "fillColor": "#ffffff", "cornerRadius": 4, "labelLimit": 300}
}
}
